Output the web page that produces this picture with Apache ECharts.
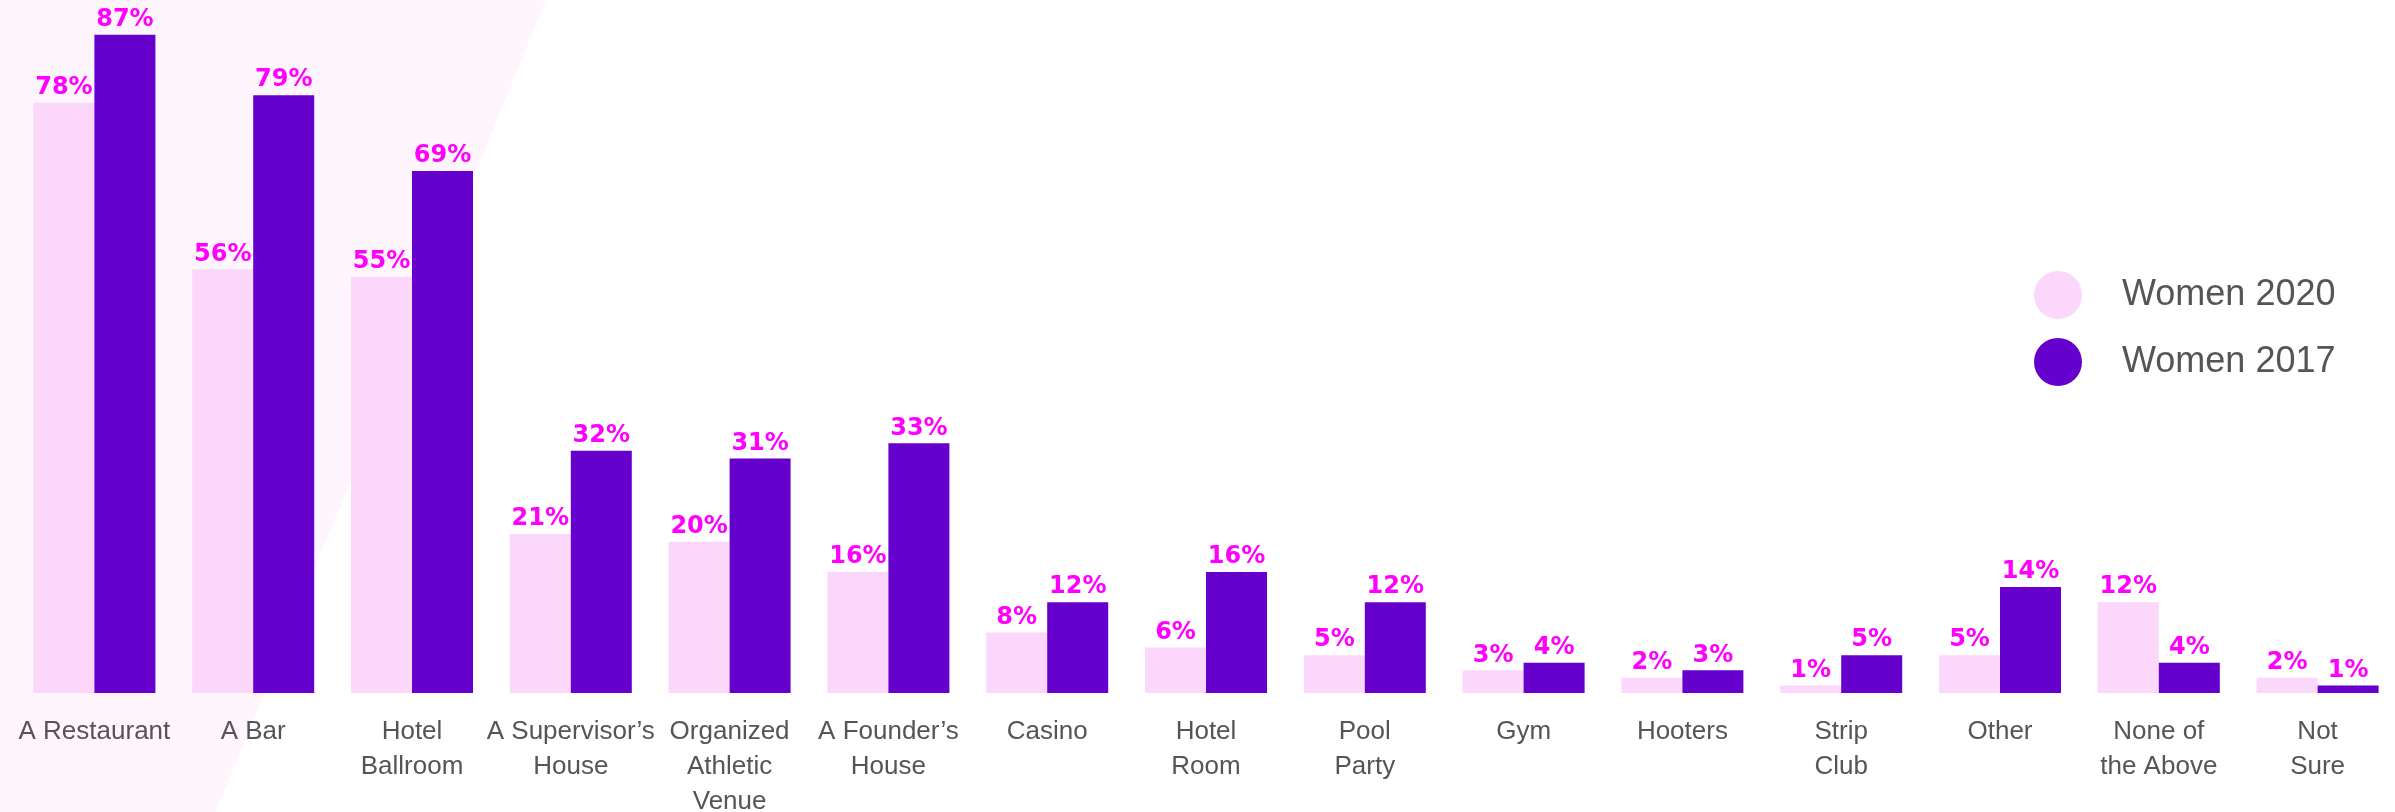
<!DOCTYPE html>
<html>
<head>
<meta charset="utf-8">
<script src="https://cdn.jsdelivr.net/npm/echarts@6/dist/echarts.min.js"></script>
<style>
    html, body { margin: 0; padding: 0; background: #fff; }
    #chart { width: 2395px; height: 812px; }
</style>
</head>
<body>
<div id="chart"></div>
<script>
// categories (line breaks as in the picture)
const categories = [
    "A Restaurant", "A Bar", "Hotel\nBallroom", "A Supervisor’s\nHouse",
    "Organized\nAthletic\nVenue", "A Founder’s\nHouse", "Casino", "Hotel\nRoom",
    "Pool\nParty", "Gym", "Hooters", "Strip\nClub", "Other", "None of\nthe Above", "Not\nSure"
];
const women2020 = [78, 56, 55, 21, 20, 16, 8, 6, 5, 3, 2, 1, 5, 12, 2];
const women2017 = [87, 79, 69, 32, 31, 33, 12, 16, 12, 4, 3, 5, 14, 4, 1];

const chart = echarts.init(document.getElementById("chart"));

const valueLabel = {
    show: true,
    position: "top",
    distance: 3,
    formatter: "{c}%",
    color: "#FF00FF",
    fontFamily: "DejaVu Sans",
    fontWeight: "bold",
    fontSize: 24,
};

const option = {
    backgroundColor: "#fff",
    animation: false,
    // light pink band behind the first bars
    graphic: [
        {
            type: "polygon",
            z: -10,
            shape: { points: [[0, 0], [546, 0], [216, 812], [0, 812]] },
            style: { fill: "#FFF6FD" },
        },
    ],
    legend: {
        orient: "vertical",
        left: 2034,
        top: 271,
        padding: 0,
        itemWidth: 48,
        itemHeight: 48,
        itemGap: 19,
        icon: "circle",
        selectedMode: false,
        textStyle: {
            color: "#555",
            fontSize: 36,
            fontFamily: "Liberation Sans",
            padding: [0, 0, 0, 35],
        },
        data: ["Women 2020", "Women 2017"],
    },
    grid: {
        left: 15,
        top: 12,
        width: 2382,
        bottom: 119,
        containLabel: false,
        outerBoundsMode: "none",
    },
    xAxis: {
        type: "category",
        data: categories,
        axisLine: { show: false },
        axisTick: { show: false },
        axisLabel: {
            interval: 0,
            margin: 21,
            color: "#555",
            fontSize: 26,
            lineHeight: 35,
            fontFamily: "Liberation Sans",
        },
    },
    yAxis: {
        type: "value",
        min: 0,
        max: 90,
        show: false,
        splitLine: { show: false },
    },
    series: [
        {
            name: "Women 2020",
            type: "bar",
            data: women2020,
            barWidth: 61,
            barGap: "0%",
            itemStyle: { color: "#FCD7FC" },
            label: valueLabel,
        },
        {
            name: "Women 2017",
            type: "bar",
            data: women2017,
            barWidth: 61,
            barGap: "0%",
            itemStyle: { color: "#6600CC" },
            label: valueLabel,
        },
    ],
};

chart.setOption(option);
</script>
</body>
</html>
